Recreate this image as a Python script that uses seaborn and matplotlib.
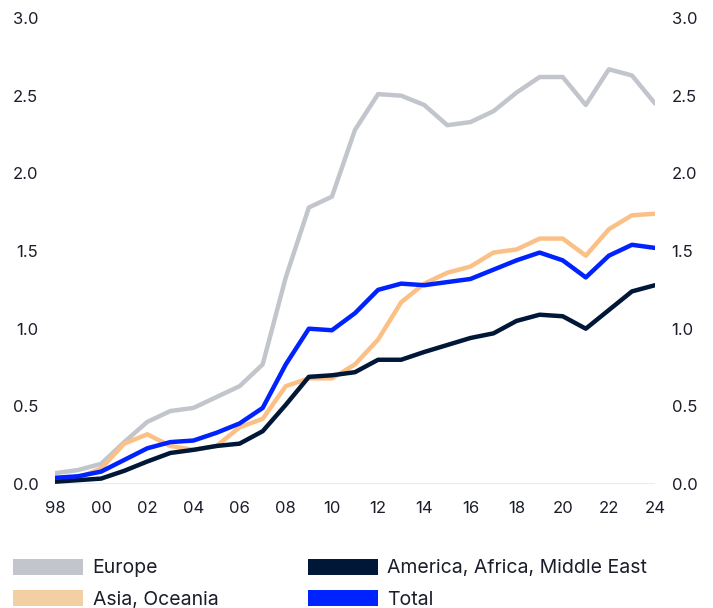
# line chart by region, 1998-2024

import pandas as pd
import numpy as np
import matplotlib.pyplot as plt
import seaborn as sns
from matplotlib.lines import Line2D

# data
years = list(range(1998, 2025))
europe = [0.07, 0.09, 0.13, 0.27, 0.40, 0.47, 0.49, 0.56, 0.63, 0.77, 1.33, 1.78, 1.85, 2.28,
          2.51, 2.50, 2.44, 2.31, 2.33, 2.40, 2.52, 2.62, 2.62, 2.44, 2.67, 2.63, 2.45]
asia = [0.03, 0.04, 0.10, 0.26, 0.32, 0.245, 0.22, 0.245, 0.365, 0.42, 0.63, 0.68, 0.68, 0.77,
        0.93, 1.17, 1.29, 1.36, 1.40, 1.49, 1.51, 1.58, 1.58, 1.47, 1.64, 1.73, 1.74]
america = [0.015, 0.025, 0.035, 0.085, 0.145, 0.20, 0.22, 0.245, 0.26, 0.34, 0.51, 0.69, 0.70, 0.72,
           0.80, 0.80, 0.85, 0.895, 0.94, 0.97, 1.05, 1.09, 1.08, 1.00, 1.12, 1.24, 1.28]
total = [0.04, 0.05, 0.08, 0.155, 0.23, 0.27, 0.28, 0.33, 0.39, 0.49, 0.77, 1.00, 0.99, 1.10,
         1.25, 1.29, 1.28, 1.30, 1.32, 1.38, 1.44, 1.49, 1.44, 1.33, 1.47, 1.54, 1.52]

series_names = ['Europe', 'Asia, Oceania', 'America, Africa, Middle East', 'Total']
line_colors = ['#c2c5cc', '#fbc085', '#001738', '#0022ff']
legend_colors = ['#c2c5cc', '#f3cfa4', '#001738', '#0022ff']
x_ticks = list(range(1998, 2025, 2))
x_labels = [str(y)[2:] for y in x_ticks]
y_ticks = [0.0, 0.5, 1.0, 1.5, 2.0, 2.5, 3.0]

df = pd.DataFrame({'Year': years * 4,
                   'Value': europe + asia + america + total,
                   'Region': [n for n in series_names for _ in years]})

sns.set_style('white')
plt.rcParams['font.family'] = ['Inter', 'DejaVu Sans']
text_color = '#1b1d2a'

fig = plt.figure(figsize=(7.13, 6.08), dpi=100)
ax = fig.add_axes([0.0771, 0.2039, 0.8416, 0.7665])

ax.axhline(0, color='#e3e4e6', linewidth=1.8, zorder=0)
sns.lineplot(data=df, x='Year', y='Value', hue='Region', hue_order=series_names,
             palette=line_colors, linewidth=3.2, legend=False, ax=ax)

ax.set_xlim(1998, 2024)
ax.set_ylim(0, 3.0)
ax.set_xticks(x_ticks)
ax.set_xticklabels(x_labels)
ax.set_yticks(y_ticks)
ax.set_yticklabels([f'{v:.1f}' for v in y_ticks])
ax.tick_params(axis='y', which='both', length=0, left=False, right=False,
               labelleft=True, labelright=True, pad=12, labelsize=12, labelcolor=text_color)
ax.tick_params(axis='x', length=0, pad=12, labelsize=12, labelcolor=text_color)
sns.despine(ax=ax, left=True, right=True, top=True, bottom=True)
ax.set_xlabel('')
ax.set_ylabel('')

# legend
handles = [Line2D([0], [0], color=c, linewidth=11.5, solid_capstyle='butt') for c in legend_colors]
fig.legend(handles, series_names, ncol=2, loc='upper left', bbox_to_anchor=(0.018, 0.080),
           frameon=False, fontsize=14, handlelength=3.6, handletextpad=0.5,
           columnspacing=4.6, labelspacing=0.7, borderpad=0, borderaxespad=0,
           labelcolor=text_color)

plt.savefig('out.png', dpi=100)
